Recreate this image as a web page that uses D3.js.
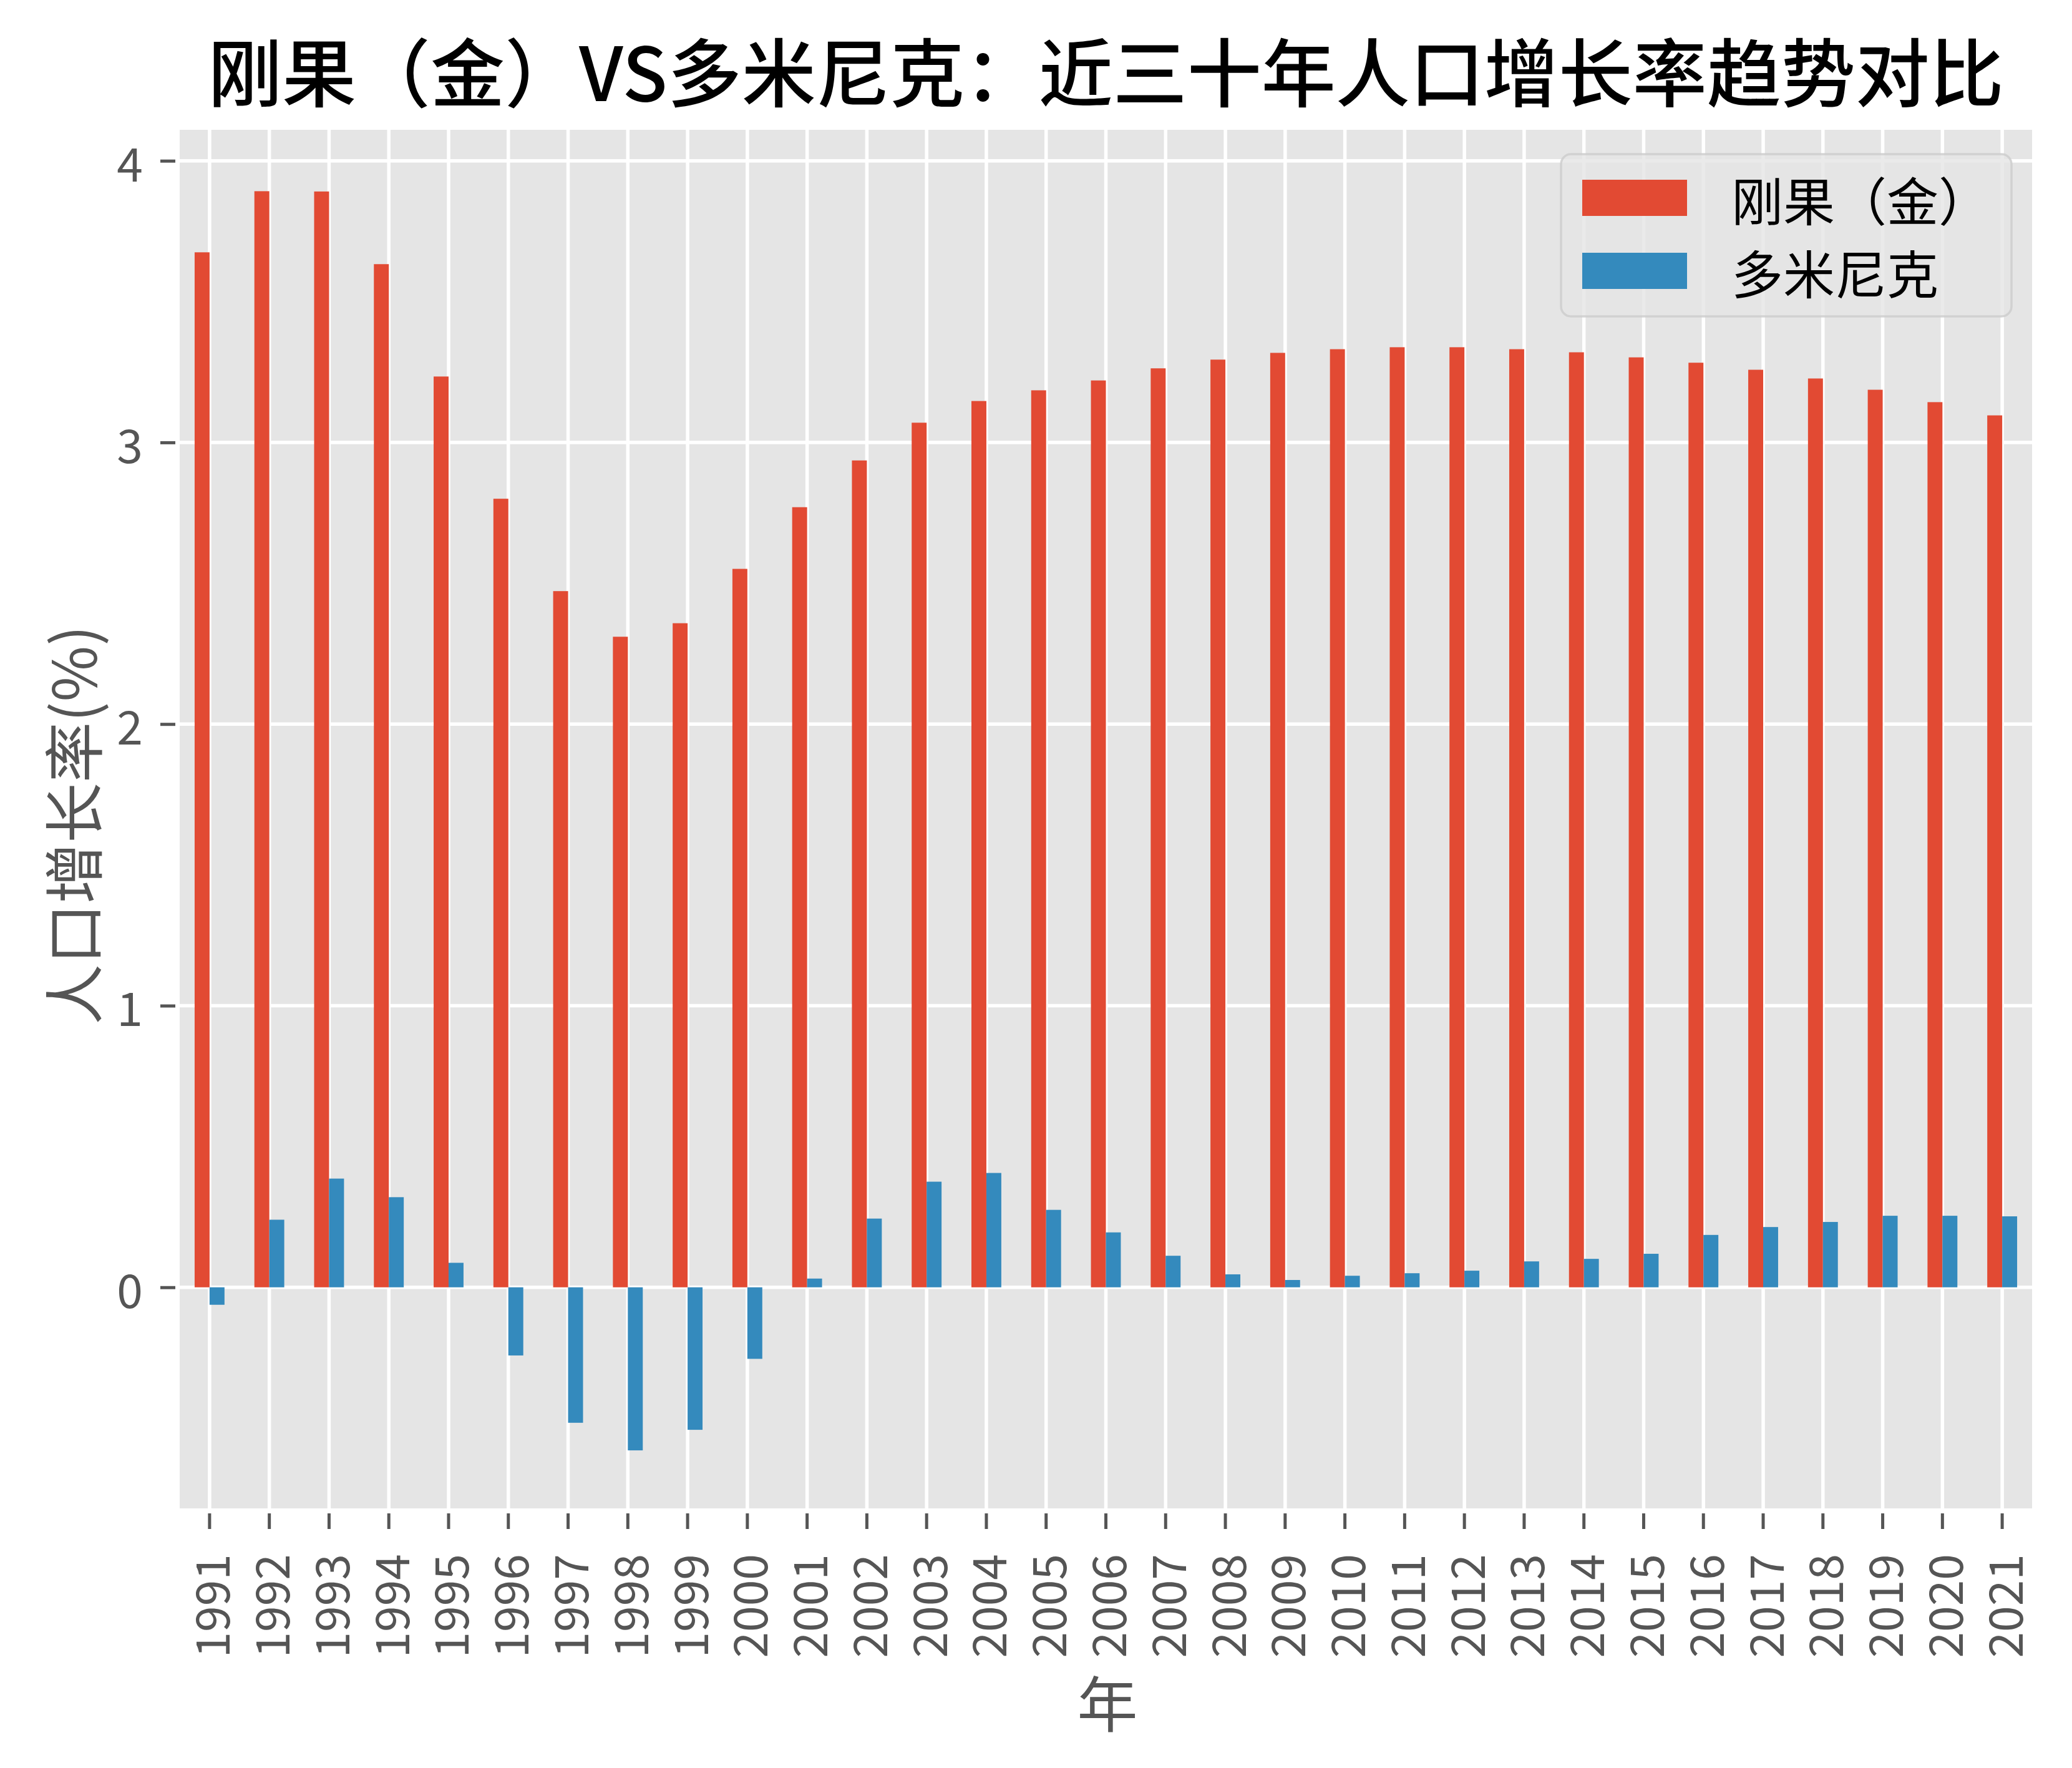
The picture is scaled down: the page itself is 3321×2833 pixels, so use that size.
<!DOCTYPE html>
<html>
<head>
<meta charset="utf-8">
<script src="https://cdn.jsdelivr.net/npm/d3@7"></script>
<style>
  html, body { margin: 0; padding: 0; background: #ffffff; }
  svg { display: block; }
</style>
</head>
<body>
<div id="chart"></div>
<script>
// ---------------- data ----------------
const years = ["1991","1992","1993","1994","1995","1996","1997","1998","1999","2000",
               "2001","2002","2003","2004","2005","2006","2007","2008","2009","2010",
               "2011","2012","2013","2014","2015","2016","2017","2018","2019","2020","2021"];
const congoDRC = [3.675, 3.892, 3.891, 3.633, 3.234, 2.800, 2.472, 2.310, 2.358, 2.551,
                  2.770, 2.936, 3.070, 3.147, 3.185, 3.220, 3.263, 3.294, 3.318, 3.331,
                  3.338, 3.338, 3.331, 3.320, 3.302, 3.283, 3.258, 3.227, 3.187, 3.143, 3.096];
const dominica = [-0.062, 0.240, 0.386, 0.320, 0.087, -0.242, -0.481, -0.579, -0.506, -0.254,
                  0.031, 0.244, 0.375, 0.406, 0.275, 0.195, 0.112, 0.046, 0.026, 0.041,
                  0.050, 0.059, 0.092, 0.101, 0.119, 0.186, 0.214, 0.232, 0.254, 0.254, 0.252];
const seriesNames = ["刚果（金）", "多米尼克"];
const seriesColors = ["#E24A33", "#348ABD"];
const yTickValues = [0, 1, 2, 3, 4];
const yDomain = [-0.785, 4.11];
const titleText = "刚果（金）VS多米尼克：近三十年人口增长率趋势对比";
const xLabelText = "年";
const yLabelText = "人口增长率(%)";

// ---------------- layout ----------------
const W = 3321, H = 2833;
const plot = { left: 288, right: 3257, top: 208, bottom: 2417 };
const FONT = "'Noto Sans CJK SC', 'Noto Sans', sans-serif";

const svg = d3.select("#chart").append("svg")
  .attr("width", W).attr("height", H)
  .attr("viewBox", `0 0 ${W} ${H}`);

svg.append("rect").attr("width", W).attr("height", H).attr("fill", "#ffffff");

const x = d3.scaleBand().domain(years).range([plot.left, plot.right]).padding(0);
const y = d3.scaleLinear().domain(yDomain).range([plot.bottom, plot.top]);
const bw = x.bandwidth();
const cx = d => x(d) + bw / 2;

// background
svg.append("rect")
  .attr("x", plot.left).attr("y", plot.top)
  .attr("width", plot.right - plot.left).attr("height", plot.bottom - plot.top)
  .attr("fill", "#E5E5E5");

// grid
const grid = svg.append("g").attr("stroke", "#ffffff").attr("stroke-width", 5.5);
grid.selectAll("line.v").data(years).join("line")
  .attr("class", "v")
  .attr("x1", d => cx(d)).attr("x2", d => cx(d))
  .attr("y1", plot.top).attr("y2", plot.bottom);
grid.selectAll("line.h").data(yTickValues).join("line")
  .attr("class", "h")
  .attr("x1", plot.left).attr("x2", plot.right)
  .attr("y1", d => y(d)).attr("y2", d => y(d));

// bars
const series = [congoDRC, dominica];
series.forEach((vals, si) => {
  svg.append("g").attr("fill", seriesColors[si])
    .selectAll("rect").data(years.map((yr, i) => ({ yr, v: vals[i] }))).join("rect")
    .attr("x", d => cx(d.yr) - bw * 0.25 + si * bw * 0.25)
    .attr("width", bw * 0.25)
    .attr("y", d => y(Math.max(0, d.v)))
    .attr("height", d => Math.abs(y(d.v) - y(0)));
});

// y axis
const yAxis = svg.append("g")
  .attr("transform", `translate(281,0)`)
  .call(d3.axisLeft(y).tickValues(yTickValues).tickFormat(d3.format("d")).tickSize(24).tickPadding(28));
yAxis.select(".domain").remove();
yAxis.selectAll(".tick line").attr("stroke", "#555555").attr("stroke-width", 5);
yAxis.selectAll(".tick text")
  .attr("fill", "#555555")
  .attr("dy", null)
  .attr("dominant-baseline", "central")
  .style("font-family", FONT).style("font-size", "75px");

// x axis
const xAxis = svg.append("g")
  .attr("transform", `translate(0,2425)`)
  .call(d3.axisBottom(x).tickSize(25));
xAxis.select(".domain").remove();
xAxis.selectAll(".tick line").attr("stroke", "#555555").attr("stroke-width", 5);
xAxis.selectAll(".tick text")
  .attr("fill", "#555555")
  .attr("x", -65).attr("y", 0).attr("dy", null)
  .attr("dominant-baseline", "central")
  .attr("transform", "rotate(-90)")
  .style("text-anchor", "end")
  .style("font-family", FONT).style("font-size", "75px");

// axis labels
svg.append("text")
  .attr("x", 1775).attr("y", 2724)
  .attr("text-anchor", "middle").attr("dominant-baseline", "central")
  .attr("fill", "#555555")
  .style("font-family", FONT).style("font-size", "97px")
  .text(xLabelText);

svg.append("text")
  .attr("transform", `translate(112,1322) rotate(-90)`)
  .attr("text-anchor", "middle").attr("dominant-baseline", "central")
  .attr("fill", "#555555")
  .style("font-family", FONT).style("font-size", "97px")
  .text(yLabelText);

// title
svg.append("text")
  .attr("x", (plot.left + plot.right) / 2).attr("y", 110)
  .attr("text-anchor", "middle").attr("dominant-baseline", "central")
  .attr("fill", "#000000")
  .style("font-family", FONT).style("font-size", "119px").style("font-weight", 500)
  .text(titleText);

// legend
const lg = svg.append("g");
lg.append("rect")
  .attr("x", 2502).attr("y", 247).attr("width", 722).attr("height", 260)
  .attr("rx", 16).attr("ry", 16)
  .attr("fill", "#E5E5E5").attr("fill-opacity", 0.8)
  .attr("stroke", "#CCCCCC").attr("stroke-opacity", 0.8).attr("stroke-width", 3.5);
const lgItems = lg.selectAll("g.item").data(seriesNames).join("g")
  .attr("class", "item")
  .attr("transform", (d, i) => `translate(0, ${i * 117})`);
lgItems.append("rect")
  .attr("x", 2536).attr("y", 288).attr("width", 168).attr("height", 58)
  .attr("fill", (d, i) => seriesColors[i]);
lgItems.append("text")
  .attr("x", 2775).attr("y", 318)
  .attr("dominant-baseline", "central")
  .attr("fill", "#000000")
  .style("font-family", FONT).style("font-size", "83px")
  .text(d => d);
</script>
</body>
</html>
